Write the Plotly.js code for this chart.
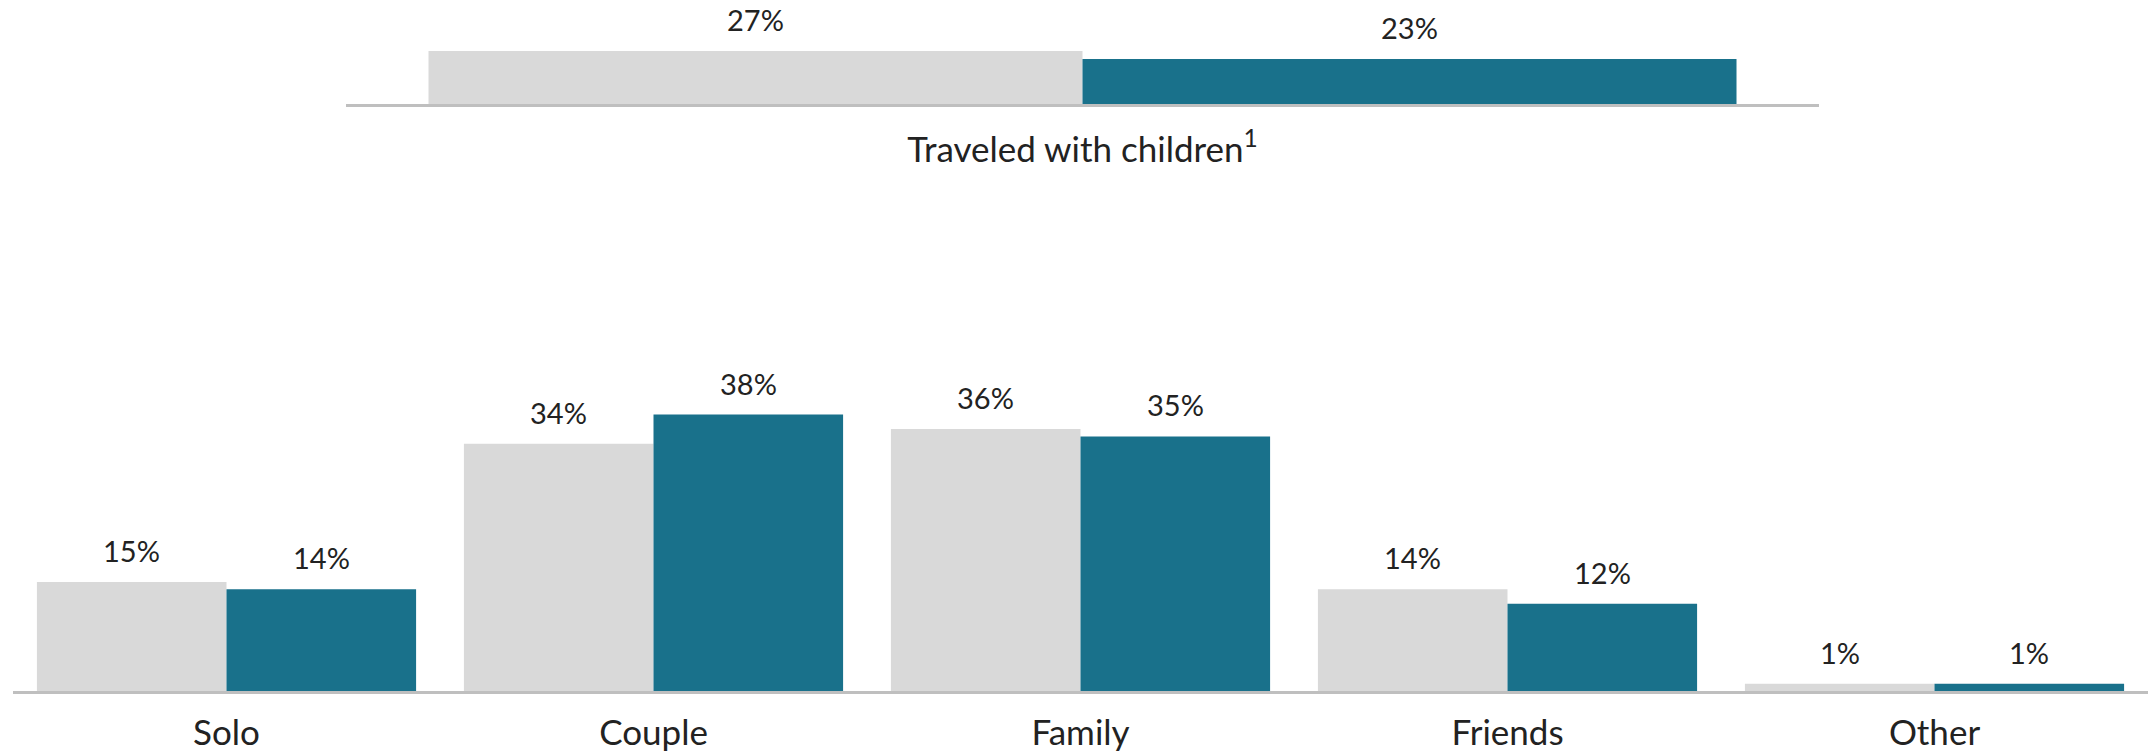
<!DOCTYPE html>
<html>
<head>
<meta charset="utf-8">
<script src="https://cdn.plot.ly/plotly-3.0.1.min.js"></script>
<style>html,body{margin:0;padding:0;background:#fff;}#chart{width:2153px;height:756px;}</style>
</head>
<body>
<div id="chart"></div>
<script>
// ---- data ----
const topCategories = ["Traveled with children<sup>1</sup>"];
const topSeriesA = [27];
const topSeriesB = [23];

const categories = ["Solo", "Couple", "Family", "Friends", "Other"];
const seriesA = [15, 34, 36, 14, 1];
const seriesB = [14, 38, 35, 12, 1];

// ---- styling ----
const W = 2153, H = 756;
const grayColor = "#d9d9d9";
const tealColor = "#19718b";
const lineColor = "#bfbfbf";
const textColor = "#222222";
const fontFamily = "Lato, 'Open Sans', sans-serif";
const bargap = 0.112;

const topDomX = [346 / W, 1819 / W];
const topDomY = [(H - 104) / H, (H - 45.2) / H];
const botDomX = [13 / W, 2148 / W];
const botDomY = [(H - 691) / H, (H - 400) / H];

const traces = [
  {type: "bar", x: topCategories, y: topSeriesA, xaxis: "x", yaxis: "y", marker: {color: grayColor}, name: "A", hoverinfo: "skip"},
  {type: "bar", x: topCategories, y: topSeriesB, xaxis: "x", yaxis: "y", marker: {color: tealColor}, name: "B", hoverinfo: "skip"},
  {type: "bar", x: categories, y: seriesA, xaxis: "x2", yaxis: "y2", marker: {color: grayColor}, name: "A", hoverinfo: "skip"},
  {type: "bar", x: categories, y: seriesB, xaxis: "x2", yaxis: "y2", marker: {color: tealColor}, name: "B", hoverinfo: "skip"}
];

function valueAnnotations(cats, a, b, xref, yref, dom) {
  const slot = (dom[1] - dom[0]) * W / cats.length;
  const bw = slot * (1 - bargap) / 2;
  const out = [];
  cats.forEach((c, i) => {
    [[a[i], -bw / 2], [b[i], bw / 2]].forEach(([v, sh]) => {
      out.push({x: c, y: v, xref: xref, yref: yref, text: v + "%", showarrow: false,
        xanchor: "center", yanchor: "bottom", xshift: sh, yshift: 12,
        font: {family: fontFamily, size: 29, color: textColor}});
    });
  });
  return out;
}

const axisCommon = {
  showgrid: false, zeroline: false, showline: true, linecolor: lineColor, linewidth: 3,
  ticks: "outside", ticklen: 9, tickcolor: "rgba(0,0,0,0)", fixedrange: true,
  tickfont: {family: fontFamily, size: 35, color: textColor}
};
const yCommon = {showgrid: false, zeroline: false, showline: false, showticklabels: false, fixedrange: true};

const layout = {
  width: W, height: H,
  margin: {l: 0, r: 0, t: 0, b: 0},
  paper_bgcolor: "#ffffff", plot_bgcolor: "#ffffff",
  showlegend: false,
  barmode: "group", bargap: bargap, bargroupgap: 0,
  font: {family: fontFamily, color: textColor},
  xaxis: Object.assign({}, axisCommon, {domain: topDomX, anchor: "y", type: "category", ticklen: 13}),
  yaxis: Object.assign({}, yCommon, {domain: topDomY, range: [0, 30], anchor: "x"}),
  xaxis2: Object.assign({}, axisCommon, {domain: botDomX, anchor: "y2", type: "category"}),
  yaxis2: Object.assign({}, yCommon, {domain: botDomY, range: [0, 40], anchor: "x2"}),
  annotations: valueAnnotations(topCategories, topSeriesA, topSeriesB, "x", "y", topDomX)
    .concat(valueAnnotations(categories, seriesA, seriesB, "x2", "y2", botDomX))
};

Plotly.newPlot("chart", traces, layout, {displayModeBar: false, staticPlot: true});
</script>
</body>
</html>
